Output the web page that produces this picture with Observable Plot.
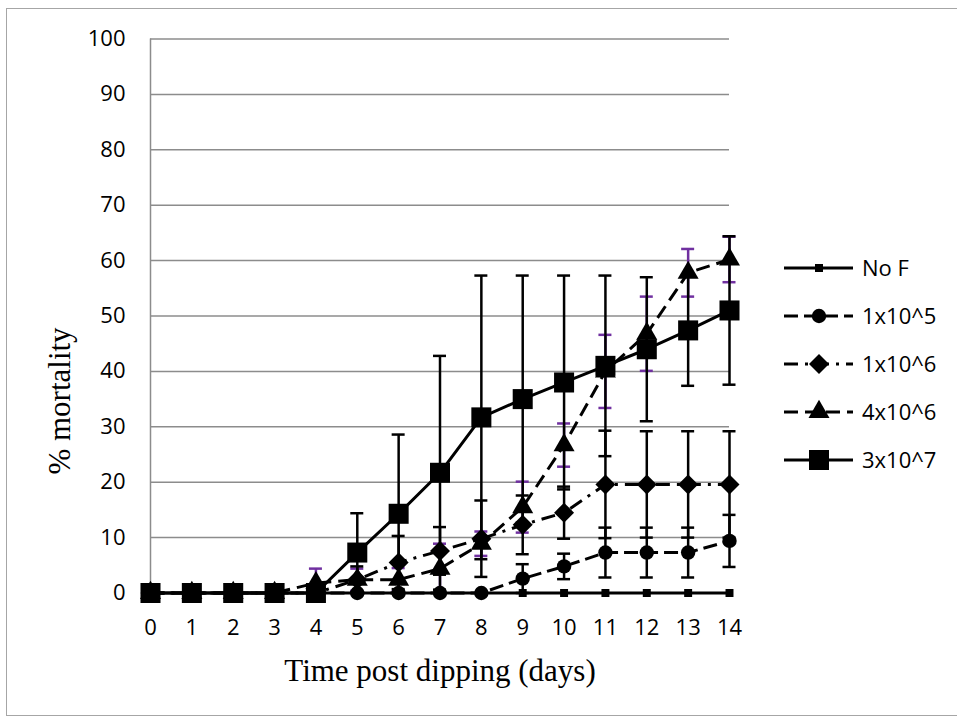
<!DOCTYPE html>
<html>
<head>
<meta charset="utf-8">
<script src="https://cdn.jsdelivr.net/npm/d3@7"></script>
<script src="https://cdn.jsdelivr.net/npm/@observablehq/plot@0.6"></script>
<style>
  html, body { margin: 0; padding: 0; background: #fff; }
  #wrap { position: relative; width: 957px; height: 719px; overflow: hidden; }
  #border { position: absolute; left: 6px; top: 8px; width: 960px; height: 708px; border: 1.5px solid #a6a6a6; box-sizing: border-box; pointer-events: none; }
  #chart { position: absolute; left: 0; top: 0; }
</style>
</head>
<body>
<div id="wrap"><div id="border"></div><div id="chart"></div></div>
<script>
// ---- data ----
const days = [0, 1, 2, 3, 4, 5, 6, 7, 8, 9, 10, 11, 12, 13, 14];
const yTicks = [0, 10, 20, 30, 40, 50, 60, 70, 80, 90, 100];
const seriesNames = ["No F", "1x10^5", "1x10^6", "4x10^6", "3x10^7"];

const noF      = [0, 0, 0, 0, 0, 0, 0, 0, 0, 0, 0, 0, 0, 0, 0];
const noFErr   = [0, 0, 0, 0, 0, 0, 0, 0, 0, 0, 0, 0, 0, 0, 0];
const f1e5     = [0, 0, 0, 0, 0, 0, 0, 0, 0, 2.6, 4.8, 7.3, 7.3, 7.3, 9.4];
const f1e5Err  = [0, 0, 0, 0, 0, 0, 0, 0, 0, 2.6, 2.3, 4.5, 4.5, 4.5, 4.7];
const f1e6     = [0, 0, 0, 0, 0, 2.4, 5.5, 7.6, 9.8, 12.3, 14.5, 19.6, 19.6, 19.6, 19.6];
const f1e6Err  = [0, 0, 0, 0, 0, 2.4, 4.8, 4.3, 6.9, 5.3, 4.7, 9.7, 9.6, 9.6, 9.6];
const f4e6     = [0, 0, 0, 0, 1.8, 2.4, 2.4, 4.4, 8.9, 15.5, 26.7, 40.0, 46.8, 57.8, 60.2];
const f4e6Err  = [0, 0, 0, 0, 2.6, 2.0, 2.1, 4.5, 2.2, 4.6, 3.9, 6.6, 6.7, 4.3, 4.1];
const f3e7     = [0, 0, 0, 0, 0, 7.3, 14.3, 21.7, 31.7, 35.0, 38.0, 41.0, 44.0, 47.4, 51.0];
const f3e7Err  = [0, 0, 0, 0, 0, 7.1, 14.3, 21.1, 25.6, 22.3, 19.3, 16.3, 13.0, 10.0, 13.4];

const seriesValues = [noF, f1e5, f1e6, f4e6, f3e7];
const seriesErrors = [noFErr, f1e5Err, f1e6Err, f4e6Err, f3e7Err];

// ---- styles ----
const styles = [
  {symbol: "square",   r: 4.5, dash: null},
  {symbol: "circle",   r: 7.2, dash: "14,6"},
  {symbol: "diamond2", r: 9,   dash: "14,7,3,7"},
  {symbol: "triangle", r: 7.8, dash: "14,7"},
  {symbol: "square",   r: 11.3, dash: null}
];
const errColors = ["#000", "#000", "#000", "#7030a0", "#000"];

const rows = seriesNames.map((name, s) => days.map((d, j) => ({
  series: name, s, day: d, value: seriesValues[s][j], err: seriesErrors[s][j],
  lo: seriesValues[s][j] - seriesErrors[s][j], hi: seriesValues[s][j] + seriesErrors[s][j]
})));

// error bars: triangle series first, then the others
const errOrder = [3, 0, 1, 2, 4];
const errMarks = errOrder.flatMap(s => {
  const data = rows[s].filter(r => r.err > 0);
  const c = errColors[s];
  return [
    Plot.ruleX(data, {x: "day", y1: "lo", y2: "hi", stroke: c, strokeWidth: 2.5}),
    Plot.ruleY(data, {x1: "day", x2: "day", y: "hi", stroke: c, strokeWidth: 2.5, insetLeft: -6.5, insetRight: -6.5}),
    Plot.ruleY(data, {x1: "day", x2: "day", y: "lo", stroke: c, strokeWidth: 2.5, insetLeft: -6.5, insetRight: -6.5})
  ];
});

const seriesMarks = seriesNames.flatMap((name, s) => [
  Plot.line(rows[s], {x: "day", y: "value", stroke: "#000", strokeWidth: 3,
    strokeDasharray: styles[s].dash || undefined, strokeLinecap: "butt", strokeLinejoin: "round"}),
  Plot.dot(rows[s], {x: "day", y: "value", symbol: () => styles[s].symbol, r: styles[s].r, fill: "#000", stroke: "none"})
]);

const chart = Plot.plot({
  width: 957,
  height: 719,
  marginLeft: 150,
  marginRight: 228,
  marginTop: 38.5,
  marginBottom: 126.5,
  x: {domain: [0, 14]},
  y: {domain: [0, 100]},
  symbol: {type: "identity"},
  style: {fontFamily: "'Open Sans', sans-serif", fontSize: "22px", color: "#000", background: "transparent", overflow: "visible"},
  marks: [
    Plot.gridY(yTicks, {stroke: "#8c8c8c", strokeOpacity: 1, strokeWidth: 1.5}),
    Plot.ruleX([0], {stroke: "#8c8c8c", strokeWidth: 1.5}),
    Plot.axisY(yTicks, {tickSize: 0, tickPadding: 25, label: null, fontSize: 22}),
    Plot.axisX(days, {tickSize: 0, tickPadding: 26, label: null, fontSize: 22}),
    Plot.text(["% mortality"], {frameAnchor: "left", rotate: -90, dx: -90, dy: 85,
      fontFamily: "'Liberation Serif', 'Times New Roman', serif", fontSize: 31, textAnchor: "middle", lineAnchor: "middle"}),
    Plot.text(["Time post dipping (days)"], {frameAnchor: "bottom", dy: 78,
      fontFamily: "'Liberation Serif', 'Times New Roman', serif", fontSize: 31, textAnchor: "middle", lineAnchor: "middle"}),
    ...errMarks,
    ...seriesMarks
  ]
});

// ---- legend ----
const svg = d3.select(chart);
const legendY = [268, 316, 364, 412, 460];
const lg = svg.append("g").attr("text-anchor", "start");
const symbolTypes = {square: d3.symbolSquare, circle: d3.symbolCircle, diamond2: d3.symbolDiamond2, triangle: d3.symbolTriangle};
seriesNames.forEach((name, s) => {
  const g = lg.append("g").attr("transform", `translate(0,${legendY[s]})`);
  g.append("line").attr("x1", 784).attr("x2", 853).attr("y1", 0).attr("y2", 0)
    .attr("stroke", "#000").attr("stroke-width", 3)
    .attr("stroke-dasharray", styles[s].dash || null);
  g.append("path").attr("transform", "translate(819,0)")
    .attr("d", d3.symbol(symbolTypes[styles[s].symbol], Math.PI * styles[s].r * styles[s].r)())
    .attr("fill", "#000");
  g.append("text").attr("x", 862).attr("y", 0).attr("dy", "0.35em")
    .attr("text-anchor", "start")
    .attr("font-family", "'Open Sans', sans-serif").attr("font-size", 22).attr("fill", "#000")
    .text(name);
});

document.getElementById("chart").appendChild(chart);
</script>
</body>
</html>
